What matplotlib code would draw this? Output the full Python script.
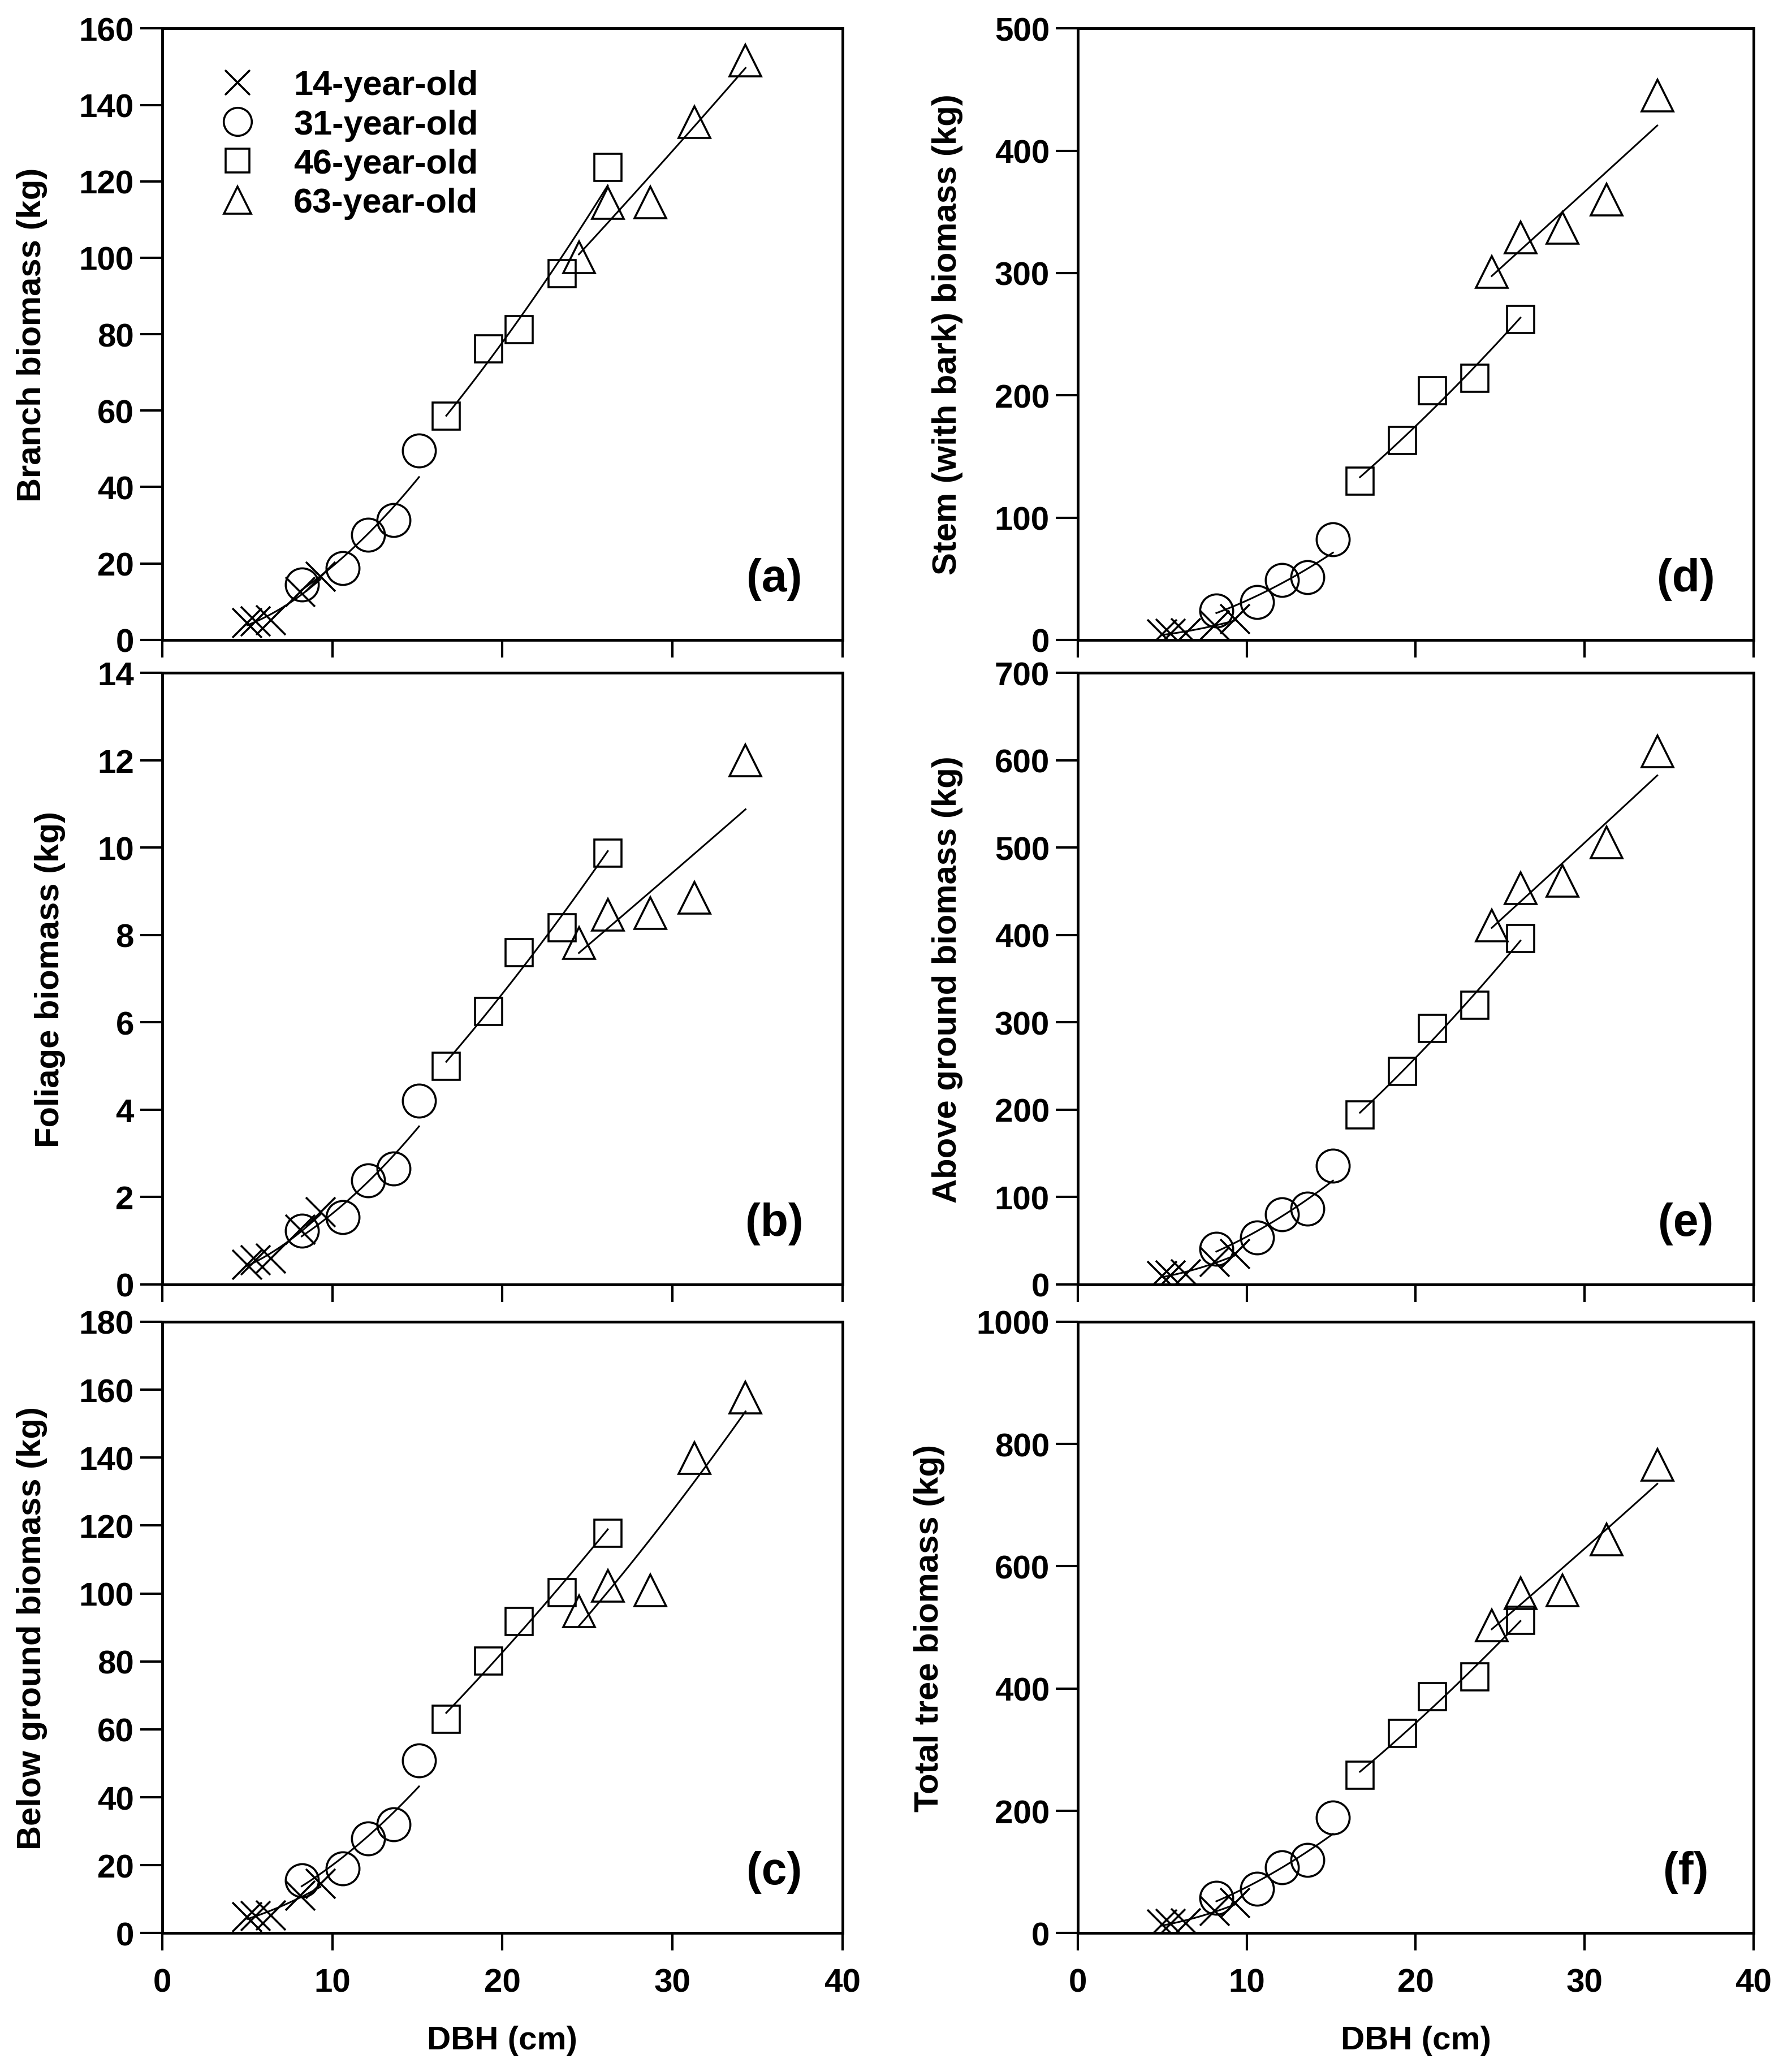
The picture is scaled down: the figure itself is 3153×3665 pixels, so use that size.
import numpy as np
import matplotlib
matplotlib.use("Agg")
import matplotlib.pyplot as plt

plt.rcParams['font.family'] = ['Liberation Sans', 'DejaVu Sans']
plt.rcParams['font.weight'] = 'bold'

# DBH (cm) of the sampled trees, per stand age
dbh14 = [5.0, 5.5, 6.4, 8.1, 9.3]
dbh31 = [8.2, 10.6, 12.1, 13.6, 15.1]
dbh46 = [16.7, 19.2, 21.0, 23.5, 26.2]
dbh63 = [24.5, 26.2, 28.7, 31.3, 34.3]

# biomass components (kg)
branch14 = [4.4, 4.8, 5.2, 12.5, 16.5]
branch31 = [14.5, 18.7, 27.5, 31.4, 49.5]
branch46 = [58.6, 76.1, 81.2, 95.9, 123.6]
branch63 = [100.1, 114.3, 114.5, 135.5, 151.6]

foliage14 = [0.45, 0.55, 0.6, 1.25, 1.65]
foliage31 = [1.23, 1.54, 2.38, 2.65, 4.21]
foliage46 = [5.0, 6.25, 7.6, 8.17, 9.88]
foliage63 = [7.82, 8.46, 8.5, 8.85, 12.0]

below14 = [4.8, 5.0, 5.2, 11.0, 14.5]
below31 = [15.5, 19.1, 27.9, 32.1, 50.9]
below46 = [62.9, 80.2, 91.8, 100.2, 117.8]
below63 = [94.7, 102.2, 100.9, 139.8, 157.6]

stem14 = [4.6, 5.0, 5.5, 12.0, 17.0]
stem31 = [24.0, 31.0, 49.0, 51.0, 82.0]
stem46 = [130.0, 163.0, 204.0, 214.0, 262.0]
stem63 = [301.0, 329.0, 337.0, 360.0, 445.0]

above14 = [9.5, 10.4, 11.3, 25.7, 35.1]
above31 = [41.0, 53.5, 80.5, 86.7, 136.0]
above46 = [194.0, 244.0, 293.0, 320.0, 396.0]
above63 = [411.0, 454.0, 462.0, 506.0, 610.0]

total14 = [14.3, 15.4, 16.5, 36.7, 49.6]
total31 = [57.8, 72.3, 108.0, 119.7, 188.8]
total46 = [258.6, 327.0, 387.0, 419.0, 511.6]
total63 = [503.6, 556.0, 561.0, 644.0, 766.0]

ages = ["14-year-old", "31-year-old", "46-year-old", "63-year-old"]
dbh = [dbh14, dbh31, dbh46, dbh63]

panels = [
   # (column, row, ylabel, ymax, ystep, tag, data)
   (0, 0, "Branch biomass (kg)", 160, 20, "(a)", [branch14, branch31, branch46, branch63]),
   (0, 1, "Foliage biomass (kg)", 14, 2, "(b)", [foliage14, foliage31, foliage46, foliage63]),
   (0, 2, "Below ground biomass (kg)", 180, 20, "(c)", [below14, below31, below46, below63]),
   (1, 0, "Stem (with bark) biomass (kg)", 500, 100, "(d)", [stem14, stem31, stem46, stem63]),
   (1, 1, "Above ground biomass (kg)", 700, 100, "(e)", [above14, above31, above46, above63]),
   (1, 2, "Total tree biomass (kg)", 1000, 200, "(f)", [total14, total31, total46, total63]),
]

markers = [dict(marker='x', ms=37, mew=2.6),
           dict(marker='o', ms=42, mew=2.6),
           dict(marker='s', ms=35, mew=2.6),
           dict(marker='^', ms=40, mew=2.6)]

col_left = [0.091, 0.6045]
col_width = [0.3815, 0.379]
row_bottom = [0.691, 0.380, 0.067]
row_height = 0.295

fs = 42

fig = plt.figure(figsize=(31.53, 36.66), dpi=100)

for col, row, ylabel, ymax, ystep, tag, data in panels:
   ax = fig.add_axes([col_left[col], row_bottom[row], col_width[col], row_height])

   for i in range(4):
      x = np.array(dbh[i])
      y = np.array(data[i])
      # allometric fit y = a * D^b, drawn over the stand's DBH range
      b, loga = np.polyfit(np.log(x), np.log(y), 1)
      xf = np.linspace(x.min(), x.max(), 60)
      ax.plot(xf, np.exp(loga) * xf ** b, color='black', lw=2.2, zorder=2)
      ax.plot(x, y, ls='none', color='black', mfc='none', mec='black',
              label=ages[i], zorder=3, **markers[i])

   ax.set_xlim(0, 40)
   ax.set_ylim(0, ymax)
   ax.set_xticks(np.arange(0, 41, 10))
   ax.set_yticks(np.arange(0, ymax + ystep / 2, ystep))
   ax.tick_params(axis='both', direction='out', width=3, labelsize=fs)
   ax.tick_params(axis='x', length=22, pad=22)
   ax.tick_params(axis='y', length=28, pad=8)
   for lab in ax.get_xticklabels() + ax.get_yticklabels():
      lab.set_fontweight('bold')
   for sp in ax.spines.values():
      sp.set_linewidth(3.5)

   if row == 2:
      ax.set_xlabel("DBH (cm)", fontsize=fs, fontweight='bold', labelpad=34)
   else:
      ax.tick_params(axis='x', labelbottom=False)

   ax.set_ylabel(ylabel, fontsize=43, fontweight='bold', labelpad=40)
   ax.text(0.9, 0.1, tag, transform=ax.transAxes, fontsize=58, fontweight='bold',
           ha='center', va='center')

   if col == 0 and row == 0:
      leg = ax.legend(loc='upper left', bbox_to_anchor=(0.065, 0.955), frameon=False,
                      fontsize=44, markerscale=0.85, handlelength=1.0,
                      handletextpad=1.12, labelspacing=0.2, borderaxespad=0)
      for t in leg.get_texts():
         t.set_fontweight('bold')

fig.savefig("out.png", dpi=100)
